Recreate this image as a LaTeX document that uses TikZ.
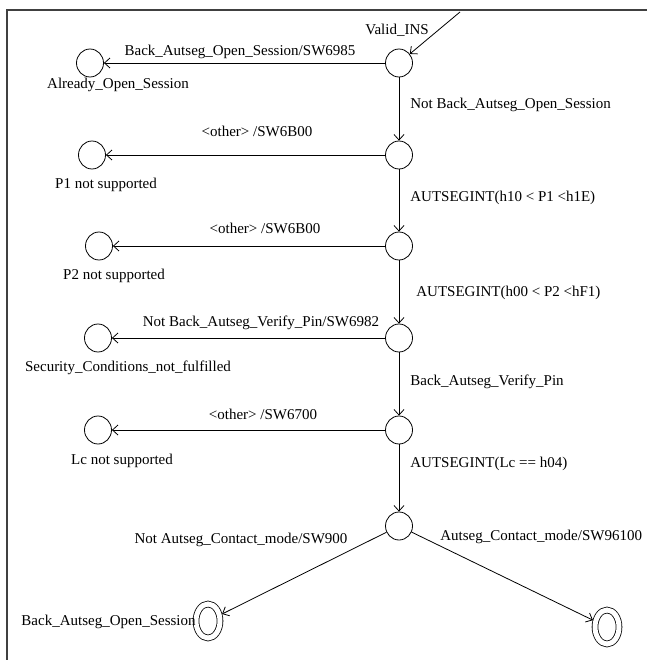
\documentclass[tikz,border=0pt]{standalone}
\usepackage{fontspec}
\setmainfont{Liberation Serif}
\usetikzlibrary{shapes.geometric,arrows.meta}
\begin{document}
\begin{tikzpicture}[x=1pt,y=-1pt,line width=0.8pt,>={Straight Barb[length=5.5pt,width=10pt]},
  state/.style={ellipse,draw,minimum width=27pt,minimum height=28pt,inner sep=0pt},
  final/.style={ellipse,draw,double,double distance=5pt,minimum width=24pt,minimum height=34pt,inner sep=0pt,outer sep=3pt},
  lbl/.style={font=\fontsize{15}{18}\selectfont,inner sep=0pt}]
\useasboundingbox (0,0) rectangle (647,660);
\draw[line width=1.4pt, black!75] (7,660) -- (7,10) -- (647,10);

% main path
\node[state] (s0) at (399,63) {};
\node[state] (s1) at (399,155) {};
\node[state] (s2) at (399,246) {};
\node[state] (s3) at (399,338) {};
\node[state] (s4) at (399,430) {};
\node[state] (s5) at (399,526) {};
% error states
\node[state] (open) at (90,63) {};
\node[state] (p1) at (92,155) {};
\node[state] (p2) at (99,246) {};
\node[state] (sec) at (98,338) {};
\node[state] (lc) at (98,430) {};
% end states
\node[final] (f1) at (208,621) {};
\node[final] (f2) at (607,627) {};

\coordinate (in) at (460,12);
\draw[->] (in) -- (s0);
\draw[->] (s0) -- (open);
\draw[->] (s0) -- (s1);
\draw[->] (s1) -- (p1);
\draw[->] (s1) -- (s2);
\draw[->] (s2) -- (p2);
\draw[->] (s2) -- (s3);
\draw[->] (s3) -- (sec);
\draw[->] (s3) -- (s4);
\draw[->] (s4) -- (lc);
\draw[->] (s4) -- (s5);
\draw[->] (s5) -- (f1);
\draw[->] (s5) -- (f2);

% labels
\node[lbl] (l0) at (397,30) {Valid\_INS};
\node[lbl] (l1) at (240,52) {Back\_Autseg\_Open\_Session/SW6985};
\node[lbl] (l2) at (118,85) {Already\_Open\_Session};
\node[lbl,anchor=west] (l3) at (410,105) {Not Back\_Autseg\_Open\_Session};
\node[lbl] (l4) at (257,131) {<other> /SW6B00};
\node[lbl] (l5) at (106,185) {P1 not supported};
\node[lbl,anchor=west] (l6) at (410,198) {AUTSEGINT(h10 < P1 <h1E)};
\node[lbl] (l7) at (265,228) {<other> /SW6B00};
\node[lbl] (l8) at (114,276) {P2 not supported};
\node[lbl,anchor=west] (l9) at (416,293) {AUTSEGINT(h00 < P2 <hF1)};
\node[lbl] (l10) at (261,323) {Not Back\_Autseg\_Verify\_Pin/SW6982};
\node[lbl] (l11) at (128,368) {Security\_Conditions\_not\_fulfilled};
\node[lbl,anchor=west] (l12) at (410,382) {Back\_Autseg\_Verify\_Pin};
\node[lbl] (l13) at (263,414) {<other> /SW6700};
\node[lbl] (l14) at (122,461) {Lc not supported};
\node[lbl,anchor=west] (l15) at (410,464) {AUTSEGINT(Lc == h04)};
\node[lbl] (l16) at (241,540) {Not Autseg\_Contact\_mode/SW900};
\node[lbl,anchor=west] (l17) at (440,537) {Autseg\_Contact\_mode/SW96100};
\node[lbl,anchor=east] (l18) at (196,622) {Back\_Autseg\_Open\_Session};
\end{tikzpicture}
\end{document}
